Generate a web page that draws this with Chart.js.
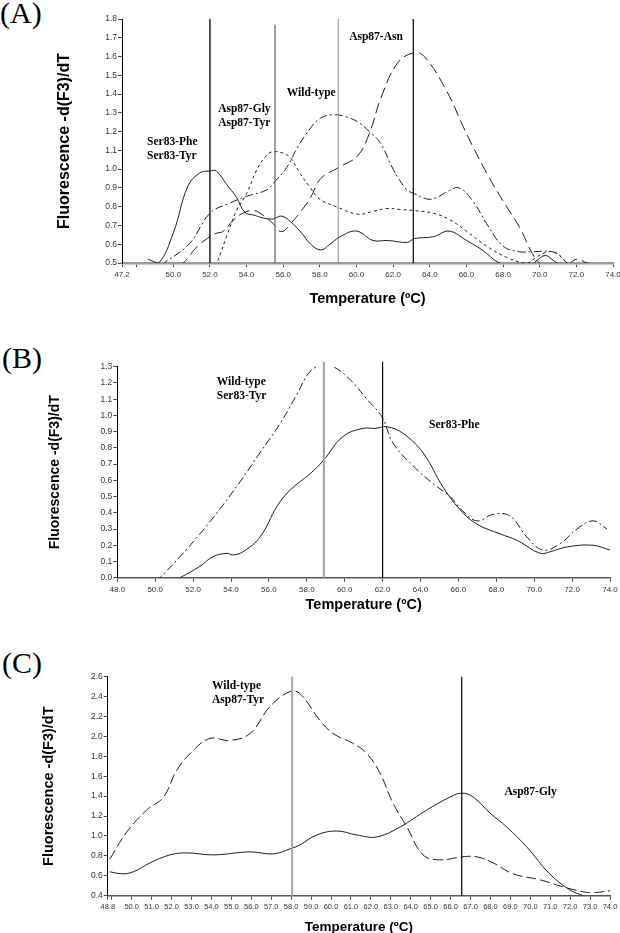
<!DOCTYPE html>
<html><head><meta charset="utf-8">
<script src="https://cdn.jsdelivr.net/npm/chart.js@4.4.1/dist/chart.umd.min.js"></script>
<style>
html,body{margin:0;padding:0;background:#fff;overflow:hidden;width:620px;height:933px;}
canvas{position:absolute;left:0;}
.plab{position:absolute;left:0;font-family:"Liberation Serif","Times New Roman",serif;font-size:30px;line-height:30px;color:#000;white-space:nowrap;}
</style></head><body>
<div class="plab" style="top:-2px;left:0">(A)</div>
<div class="plab" style="top:343px;left:2px">(B)</div>
<div class="plab" style="top:648px;left:2px">(C)</div>
<canvas id="cA" width="620" height="312" style="top:0"></canvas>
<canvas id="cB" width="620" height="312" style="top:310px"></canvas>
<canvas id="cC" width="620" height="320" style="top:622px"></canvas>
<script>
// ---------- Panel A data ----------
const tickValsA = [47.2,48,50,52,54,56,58,60,62,64,66,68,70,72,74];
const tickLabelsA = ['47.2','','50.0','52.0','54.0','56.0','58.0','60.0','62.0','64.0','66.0','68.0','70.0','72.0','74.0'];
const tempA_ser83 = [48.6,49.2,50.0,50.8,51.45,52.0,52.35,52.9,53.45,53.9,54.4,54.9,55.45,55.9,56.4,57.0,57.5,58.05,58.55,59.1,60.0,60.9,61.7,62.8,63.15,64.2,65.05,66.0,66.85,67.8,68.5,69.5,69.8,70.3,70.8,71.2,74.0];
const valA_ser83  = [0.52,0.50,0.66,0.91,0.98,0.99,0.99,0.92,0.85,0.77,0.755,0.74,0.735,0.75,0.72,0.66,0.60,0.57,0.60,0.64,0.67,0.62,0.62,0.61,0.63,0.64,0.67,0.62,0.57,0.50,0.49,0.49,0.51,0.54,0.51,0.49,0.49];
const tempA_gly = [52.2,52.37,52.9,53.45,54.0,54.55,55.1,55.45,56.0,56.4,56.9,57.45,58.0,58.9,60.05,60.9,61.65,62.4,63.1,64.2,65.1,66.0,67.1,68.2,69.3,69.8,70.3,70.7,71.1,71.5,71.8];
const valA_gly  = [0.49,0.50,0.64,0.78,0.87,0.995,1.075,1.093,1.085,1.06,0.98,0.905,0.84,0.80,0.76,0.775,0.79,0.785,0.78,0.765,0.73,0.67,0.59,0.53,0.50,0.53,0.555,0.56,0.54,0.50,0.49];
const tempA_wt = [49.3,49.5,50.9,52.0,53.1,54.0,55.1,55.6,56.2,56.8,57.5,58.0,58.7,59.4,60.1,60.7,61.3,62.0,62.75,63.15,63.9,64.4,64.95,65.6,66.35,67.1,68.0,68.9,69.6,70.7,71.2,71.5,72.0];
const valA_wt  = [0.49,0.50,0.605,0.765,0.82,0.855,0.89,0.94,1.01,1.12,1.22,1.27,1.29,1.28,1.25,1.20,1.14,1.00,0.89,0.87,0.84,0.85,0.88,0.90,0.83,0.71,0.59,0.56,0.56,0.56,0.53,0.50,0.49];
const tempA_asn = [50.3,50.55,51.3,52.0,52.4,52.7,53.3,53.8,54.35,54.9,55.45,55.9,56.4,57.0,57.5,58.05,59.05,60.05,60.7,61.3,62.2,63.1,63.7,64.9,66.0,67.1,68.0,68.9,69.6,70.0,70.5,71.5,72.0,72.6,73.0,74.0];
const valA_asn  = [0.49,0.50,0.587,0.64,0.66,0.667,0.73,0.765,0.78,0.755,0.71,0.667,0.71,0.78,0.85,0.95,1.01,1.07,1.19,1.37,1.56,1.62,1.60,1.42,1.19,0.98,0.83,0.69,0.55,0.50,0.49,0.49,0.52,0.50,0.49,0.49];
const markersA = [52.0,55.55,59.0,63.1];
const labelTextA = [['Ser83-Phe','Ser83-Tyr'],['Asp87-Gly','Asp87-Tyr'],['Wild-type'],['Asp87-Asn']];
const labelAtA = [[48.57,1.146],[52.45,1.319],[56.19,1.404],[59.6,1.702]];

// ---------- Panel B data ----------
const tickValsB = [48,50,52,54,56,58,60,62,64,66,68,70,72,74];
const tickLabelsB = ['48.0','50.0','52.0','54.0','56.0','58.0','60.0','62.0','64.0','66.0','68.0','70.0','72.0','74.0'];
const tempB_wt = [50.0,50.25,51.31,52.36,53.26,54.47,55.53,56.59,57.48,58.17,58.86,59.4,60.29,61.17,61.97,62.55,63.6,64.66,65.56,66.24,66.98,67.83,68.72,69.62,70.47,71.37,72.26,73.1,73.84];
const valB_wt  = [-0.02,0.0,0.13,0.27,0.40,0.59,0.77,0.95,1.13,1.27,1.31,1.30,1.22,1.10,0.99,0.83,0.69,0.58,0.50,0.41,0.35,0.39,0.38,0.25,0.17,0.21,0.30,0.35,0.30];
const tempB_phe = [51.0,51.31,52.36,53.05,53.79,54.1,54.63,55.53,56.43,57.12,58.17,58.86,59.91,60.97,61.6,62.23,63.07,64.13,65.18,66.08,66.98,68.2,69.1,70.31,70.84,71.74,73.1,74.0];
const valB_phe  = [-0.02,0.0,0.07,0.13,0.15,0.14,0.16,0.25,0.44,0.54,0.64,0.72,0.87,0.92,0.92,0.93,0.89,0.77,0.56,0.42,0.33,0.27,0.23,0.15,0.16,0.19,0.20,0.17];
const markersB = [58.9,62.0];
const labelTextB = [['Wild-type','Ser83-Tyr'],['Ser83-Phe']];
const labelAtB = [[53.25,1.208],[64.45,0.941]];

// ---------- Panel C data ----------
const tickValsC = [48.8,49,50,51,52,53,54,55,56,57,58,59,60,61,62,63,64,65,66,67,68,69,70,71,72,73,74];
const tickLabelsC = ['48.8','','50.0','51.0','52.0','53.0','54.0','55.0','56.0','57.0','58.0','59.0','60.0','61.0','62.0','63.0','64.0','65.0','66.0','67.0','68.0','69.0','70.0','71.0','72.0','73.0','74.0'];
const tempC_wt = [48.91,49.75,50.75,51.59,52.26,53.09,53.93,54.93,55.94,56.94,57.93,58.44,59.45,60.1,61.1,61.79,62.46,63.11,63.81,64.62,65.47,66.56,67.33,68.13,69.13,70.48,71.63,72.63,73.13,74.0];
const valC_wt  = [0.77,1.04,1.26,1.39,1.66,1.86,1.98,1.96,2.03,2.30,2.45,2.43,2.16,2.03,1.93,1.83,1.63,1.33,1.09,0.81,0.76,0.79,0.79,0.73,0.62,0.56,0.49,0.44,0.43,0.45];
const tempC_gly = [48.91,49.5,50.08,50.92,51.92,52.76,54.09,55.94,57.1,57.94,58.44,59.28,60.29,61.29,62.29,63.46,64.8,65.97,66.56,67.14,67.98,68.82,69.82,70.97,71.97,72.65];
const valC_gly  = [0.64,0.62,0.64,0.73,0.81,0.83,0.81,0.84,0.82,0.87,0.91,1.01,1.05,1.01,0.99,1.09,1.26,1.39,1.43,1.39,1.23,1.09,0.89,0.62,0.46,0.40];
const markersC = [58.05,66.56];
const labelTextC = [['Wild-type','Asp87-Tyr'],['Asp87-Gly']];
const labelAtC = [[54.03,2.507],[68.7,1.445]];

// ---------- styling / helpers ----------
const INK = '#1e1e1e';
const DASH = { solid: [], dot: [3,3], dashdot: [8,3,2,3], long: [11,5] };

function curve(xs, ys, dash) {
  return { data: xs.map((x,i)=>({x:x, y:ys[i]})), borderColor: INK, borderWidth: 1,
           borderDash: dash, pointRadius: 0, tension: 0.4, fill: false };
}
function marker(x, y0, y1, color, width) {
  return { data: [{x:x, y:y0},{x:x, y:y1}], borderColor: color, borderWidth: width,
           pointRadius: 0, tension: 0, fill: false, clip: false };
}
function annotPlugin(texts, anchors) {
  return { id: 'annot', afterDatasetsDraw(chart) {
    const ctx = chart.ctx, xs = chart.scales.x, ys = chart.scales.y;
    ctx.save();
    ctx.font = 'bold 11.5px "Liberation Serif", "Times New Roman", serif';
    ctx.fillStyle = '#000'; ctx.textBaseline = 'middle'; ctx.textAlign = 'left';
    texts.forEach((lines, k) => {
      const px = xs.getPixelForValue(anchors[k][0]);
      const py = ys.getPixelForValue(anchors[k][1]);
      lines.forEach((t, j) => ctx.fillText(t, px, py + j*14));
    });
    ctx.restore();
  }};
}
function build(id, p) {
  const tv = p.tickVals, tl = p.tickLabels;
  return new Chart(document.getElementById(id), {
    type: 'line',
    data: { datasets: p.datasets },
    options: {
      responsive: false, animation: false, devicePixelRatio: 1,
      layout: { padding: p.pad },
      plugins: { legend: {display:false}, tooltip: {enabled:false} },
      scales: {
        x: { type: 'linear', min: p.xmin, max: p.xmax,
             afterBuildTicks: s => { s.ticks = tv.map(v => ({value: v})); },
             afterFit: s => { s.height = p.xh; s.paddingLeft = 0; s.paddingRight = 0; },
             ticks: { autoSkip: false, maxRotation: 0, minRotation: 0, padding: 3, color: '#333',
                      font: { family: 'Liberation Sans', size: p.xtick },
                      callback: (v, i) => tl[i] },
             grid: { display: true, drawOnChartArea: false, drawTicks: true, tickLength: 4, color: '#444' },
             border: { display: true, color: p.xAxisColor, width: p.xAxisWidth },
             title: { display: true, text: 'Temperature (ºC)', color: '#000',
                      font: { family: 'Liberation Sans', size: p.xtitle, weight: 'bold' },
                      padding: { top: 0, bottom: p.xtitlePad } } },
        y: { type: 'linear', min: p.ymin, max: p.ymax,
             afterFit: s => { s.width = p.yw; s.paddingTop = 0; s.paddingBottom = 0; },
             ticks: { stepSize: p.ystep, padding: 1, color: '#333',
                      font: { family: 'Liberation Sans', size: 8.5 },
                      callback: v => Number(v).toFixed(1) },
             grid: { display: true, drawOnChartArea: false, drawTicks: true, tickLength: 4, color: '#444' },
             border: { display: true, color: '#000', width: 1 },
             title: { display: true, text: 'Fluorescence -d(F3)/dT', color: '#000',
                      font: { family: 'Liberation Sans', size: p.ytitle, weight: 'bold' },
                      padding: { top: p.ytitlePad, bottom: 0 } } }
      }
    },
    plugins: [annotPlugin(p.labelText, p.labelAt)]
  });
}

build('cA', {
  tickVals: tickValsA, tickLabels: tickLabelsA, xmin: 47.2, xmax: 74, ymin: 0.5, ymax: 1.8, ystep: 0.1,
  pad: {left:0, top:19, right:7, bottom:0}, yw: 122, xh: 49, xtick: 8,
  xAxisColor: '#9a9a9a', xAxisWidth: 2.5,
  xtitle: 14.5, xtitlePad: 4.3, ytitle: 16, ytitlePad: 55.4,
  labelText: labelTextA, labelAt: labelAtA,
  datasets: [
    marker(markersA[0], 0.5, 1.8, '#000', 1.3),
    marker(markersA[1], 0.5, 1.77, '#6a6a6a', 1.3),
    marker(markersA[2], 0.5, 1.8, '#8a8a8a', 1),
    marker(markersA[3], 0.5, 1.8, '#000', 1.2),
    curve(tempA_ser83, valA_ser83, DASH.solid),
    curve(tempA_gly, valA_gly, DASH.dot),
    curve(tempA_wt, valA_wt, DASH.dashdot),
    curve(tempA_asn, valA_asn, DASH.long)
  ]
});

build('cB', {
  tickVals: tickValsB, tickLabels: tickLabelsB, xmin: 48, xmax: 74, ymin: 0, ymax: 1.3, ystep: 0.1,
  pad: {left:0, top:56.7, right:10, bottom:0}, yw: 117.3, xh: 44.3, xtick: 8,
  xAxisColor: '#555', xAxisWidth: 1.5,
  xtitle: 14.5, xtitlePad: 8.3, ytitle: 14, ytitlePad: 46.6,
  labelText: labelTextB, labelAt: labelAtB,
  datasets: [
    marker(markersB[0], 0, 1.33, '#a0a0a0', 2),
    marker(markersB[1], 0, 1.33, '#000', 1.2),
    curve(tempB_phe, valB_phe, DASH.solid),
    curve(tempB_wt, valB_wt, DASH.dashdot)
  ]
});

build('cC', {
  tickVals: tickValsC, tickLabels: tickLabelsC, xmin: 48.8, xmax: 74, ymin: 0.4, ymax: 2.6, ystep: 0.2,
  pad: {left:0, top:54.7, right:10, bottom:0}, yw: 107.8, xh: 46.3, xtick: 7.5,
  xAxisColor: '#555', xAxisWidth: 1.5,
  xtitle: 13.5, xtitlePad: 6.9, ytitle: 14.5, ytitlePad: 40.3,
  labelText: labelTextC, labelAt: labelAtC,
  datasets: [
    marker(markersC[0], 0.4, 2.6, '#a8a8a8', 2),
    marker(markersC[1], 0.4, 2.6, '#000', 1.2),
    curve(tempC_gly, valC_gly, DASH.solid),
    curve(tempC_wt, valC_wt, [10,4])
  ]
});
</script>
</body></html>
